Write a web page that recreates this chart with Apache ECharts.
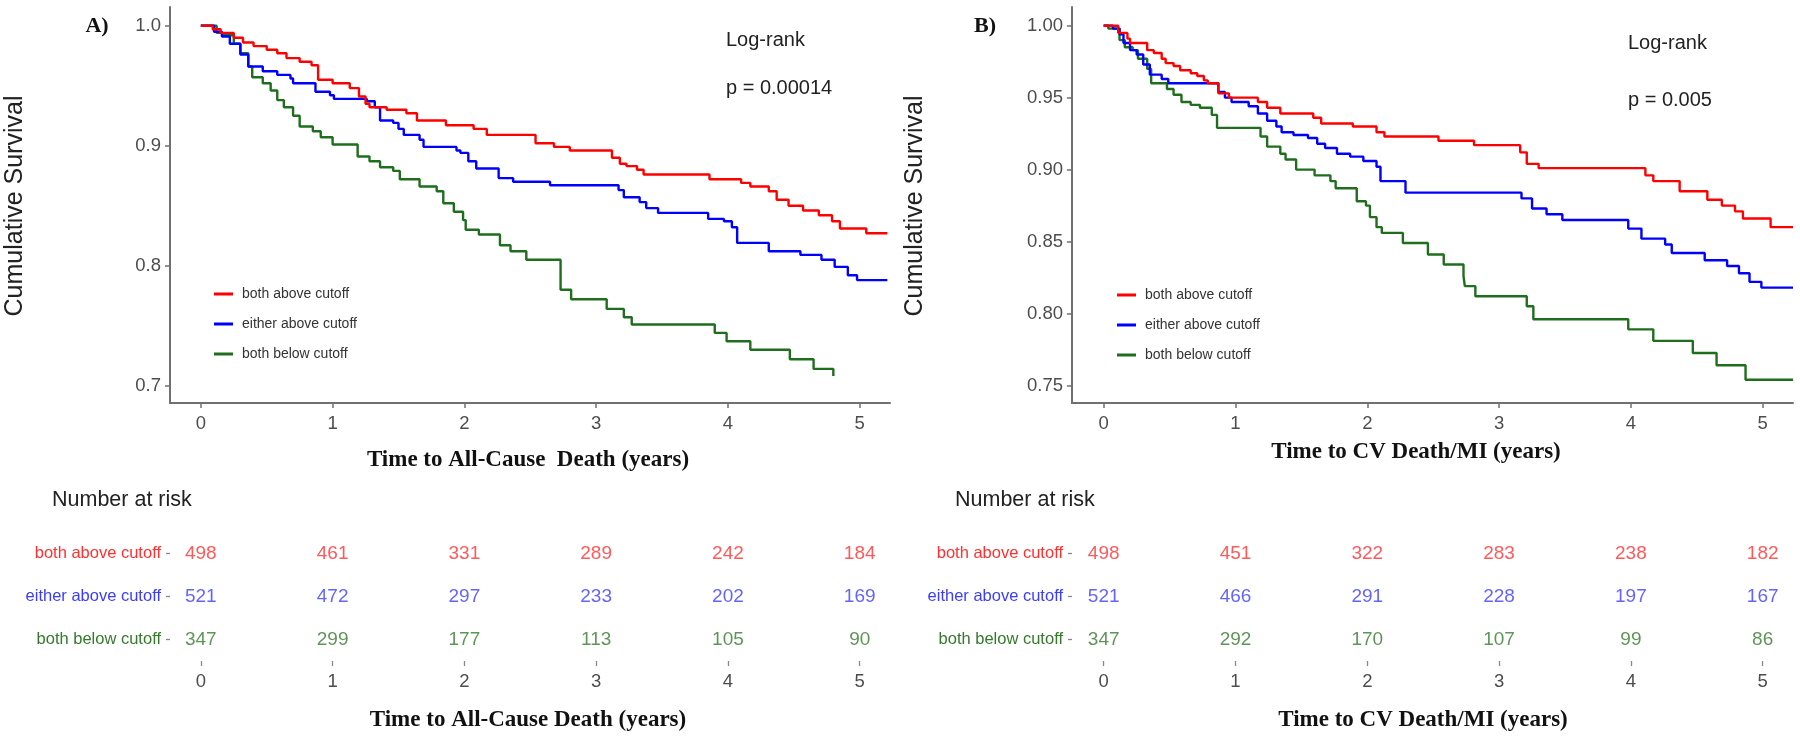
<!DOCTYPE html>
<html>
<head>
<meta charset="utf-8">
<script src="https://cdn.jsdelivr.net/npm/echarts@6/dist/echarts.min.js"></script>
<style>html,body{margin:0;padding:0;background:#fff}#c{width:1800px;height:738px}</style>
</head>
<body>
<div id="c"></div>
<script>
// ---------- data ----------
const groups = ['both above cutoff', 'either above cutoff', 'both below cutoff'];
const xTicks = [0, 1, 2, 3, 4, 5];
const yTicksA = [0.7, 0.8, 0.9, 1.0];
const yTicksB = [0.75, 0.80, 0.85, 0.90, 0.95, 1.00];
const riskTimes = [0, 1, 2, 3, 4, 5];

// Panel A: All-cause death (time in years, survival)
const aRed = [[0,1.0],[0.09,0.997],[0.15,0.994],[0.25,0.990],[0.32,0.986],[0.40,0.983],[0.50,0.980],[0.58,0.977],[0.65,0.973],[0.75,0.970],[0.84,0.967],[0.89,0.955],[1.00,0.952],[1.13,0.948],[1.20,0.941],[1.25,0.935],[1.28,0.932],[1.41,0.930],[1.56,0.927],[1.64,0.921],[1.86,0.917],[2.07,0.914],[2.17,0.909],[2.54,0.902],[2.68,0.899],[2.80,0.896],[3.12,0.890],[3.18,0.885],[3.23,0.883],[3.31,0.880],[3.36,0.876],[3.86,0.872],[4.10,0.869],[4.17,0.866],[4.31,0.862],[4.37,0.855],[4.46,0.850],[4.57,0.846],[4.69,0.842],[4.79,0.837],[4.85,0.831],[5.05,0.827],[5.21,0.827]];
const aBlue = [[0,1.0],[0.10,0.995],[0.16,0.991],[0.22,0.985],[0.30,0.976],[0.36,0.966],[0.47,0.962],[0.58,0.959],[0.68,0.956],[0.70,0.952],[0.87,0.945],[0.98,0.942],[1.01,0.939],[1.26,0.937],[1.32,0.932],[1.36,0.921],[1.46,0.919],[1.50,0.914],[1.54,0.909],[1.66,0.905],[1.69,0.899],[1.94,0.896],[1.97,0.894],[2.03,0.887],[2.09,0.881],[2.26,0.873],[2.37,0.870],[2.65,0.867],[3.17,0.863],[3.21,0.857],[3.33,0.853],[3.38,0.848],[3.47,0.844],[3.85,0.839],[3.97,0.837],[4.03,0.832],[4.07,0.819],[4.31,0.812],[4.55,0.809],[4.71,0.805],[4.81,0.799],[4.91,0.792],[4.98,0.788],[5.21,0.788]];
const aGreen = [[0,1.0],[0.12,0.994],[0.17,0.992],[0.25,0.985],[0.30,0.977],[0.36,0.966],[0.39,0.957],[0.47,0.952],[0.53,0.946],[0.58,0.938],[0.63,0.932],[0.70,0.925],[0.75,0.916],[0.85,0.912],[0.91,0.907],[1.00,0.901],[1.19,0.891],[1.28,0.887],[1.36,0.882],[1.46,0.879],[1.51,0.872],[1.66,0.866],[1.79,0.862],[1.84,0.852],[1.92,0.845],[1.99,0.838],[2.01,0.830],[2.11,0.826],[2.27,0.817],[2.35,0.812],[2.47,0.805],[2.73,0.780],[2.81,0.772],[3.08,0.764],[3.21,0.757],[3.27,0.751],[3.90,0.744],[3.99,0.737],[4.17,0.730],[4.47,0.722],[4.65,0.714],[4.80,0.708]];

// Panel B: CV death / MI
const bRed = [[0,1.0],[0.11,0.995],[0.18,0.991],[0.20,0.988],[0.33,0.983],[0.38,0.981],[0.44,0.977],[0.47,0.974],[0.53,0.972],[0.58,0.969],[0.66,0.967],[0.71,0.965],[0.76,0.962],[0.79,0.960],[0.87,0.953],[0.95,0.950],[1.17,0.947],[1.24,0.943],[1.34,0.939],[1.59,0.936],[1.65,0.932],[1.89,0.930],[2.07,0.926],[2.13,0.923],[2.54,0.920],[2.81,0.917],[3.16,0.912],[3.21,0.904],[3.30,0.901],[4.11,0.896],[4.17,0.892],[4.37,0.885],[4.58,0.879],[4.69,0.875],[4.79,0.871],[4.85,0.866],[5.06,0.860],[5.23,0.860]];
const bBlue = [[0,1.0],[0.07,0.998],[0.12,0.994],[0.15,0.988],[0.20,0.983],[0.25,0.980],[0.30,0.973],[0.35,0.966],[0.44,0.963],[0.49,0.960],[0.87,0.954],[0.92,0.950],[0.97,0.947],[1.10,0.944],[1.17,0.939],[1.24,0.934],[1.31,0.930],[1.35,0.926],[1.44,0.924],[1.55,0.922],[1.62,0.918],[1.68,0.915],[1.77,0.911],[1.87,0.909],[1.97,0.906],[2.07,0.902],[2.10,0.892],[2.29,0.884],[3.17,0.880],[3.25,0.873],[3.36,0.869],[3.48,0.865],[3.98,0.859],[4.08,0.852],[4.26,0.848],[4.31,0.842],[4.56,0.837],[4.73,0.833],[4.82,0.828],[4.90,0.822],[4.99,0.818],[5.23,0.818]];
const bGreen = [[0,1.0],[0.035,0.998],[0.12,0.990],[0.16,0.985],[0.22,0.983],[0.26,0.977],[0.33,0.970],[0.36,0.960],[0.48,0.956],[0.53,0.952],[0.59,0.947],[0.66,0.945],[0.73,0.943],[0.82,0.938],[0.86,0.929],[1.19,0.923],[1.24,0.916],[1.34,0.911],[1.38,0.907],[1.46,0.900],[1.60,0.896],[1.72,0.892],[1.76,0.887],[1.92,0.878],[1.99,0.875],[2.02,0.867],[2.07,0.860],[2.11,0.856],[2.27,0.849],[2.46,0.841],[2.58,0.834],[2.73,0.826],[2.74,0.819],[2.82,0.812],[3.21,0.805],[3.26,0.796],[3.98,0.789],[4.17,0.781],[4.47,0.7725],[4.65,0.764],[4.87,0.754],[5.23,0.754]];

// Number at risk
const riskA = [[498,461,331,289,242,184],[521,472,297,233,202,169],[347,299,177,113,105,90]];
const riskB = [[498,451,322,283,238,182],[521,466,291,228,197,167],[347,292,170,107,99,86]];

// ---------- styles ----------
const lineColors = ['#FF0000', '#0000FF', '#1E6E1E'];
const riskColors = ['#FF3030', '#3C3CFF', '#357A2C'];
const FN = "'Liberation Sans',Arial,sans-serif";
const FS = "'Liberation Sans',Arial,sans-serif";
const FSERIF = "'Liberation Serif','Times New Roman',serif";
const axisGray = '#707070';
const labelGray = '#4d4d4d';
const clear = 'rgba(0,0,0,0)';

const XA = {left: 170, width: 720, min: -0.234, max: 5.23};
const XB = {left: 1072, width: 721, min: -0.2405, max: 5.23};

function plotX(gi, X) {
  return {
    gridIndex: gi, type: 'value', min: X.min, max: X.max,
    axisLine: {show: true, onZero: false, lineStyle: {color: axisGray, width: 2}},
    axisTick: {show: true, length: 5, customValues: xTicks, lineStyle: {color: axisGray, width: 1.5}},
    axisLabel: {customValues: xTicks, color: labelGray, fontSize: 18.5, fontFamily: FN, margin: 11},
    splitLine: {show: false}
  };
}
function plotY(gi, min, max, ticks, dec) {
  return {
    gridIndex: gi, type: 'value', min: min, max: max,
    axisLine: {show: true, onZero: false, lineStyle: {color: axisGray, width: 2}},
    axisTick: {show: true, length: 5, customValues: ticks, lineStyle: {color: axisGray, width: 1.5}},
    axisLabel: {customValues: ticks, color: labelGray, fontSize: 18.5, fontFamily: FN, margin: 9,
      formatter: v => Number(v).toFixed(dec)},
    splitLine: {show: false}
  };
}
function riskX(gi, X) {
  return {
    gridIndex: gi, type: 'value', min: X.min, max: X.max,
    axisLine: {show: true, onZero: false, lineStyle: {color: clear, width: 1}},
    axisTick: {show: true, length: 5, customValues: xTicks, lineStyle: {color: '#888', width: 1.3}},
    axisLabel: {customValues: xTicks, color: labelGray, fontSize: 18.5, fontFamily: FN, margin: 11},
    splitLine: {show: false}
  };
}
function riskY(gi) {
  return {
    gridIndex: gi, type: 'category', data: groups, inverse: true,
    axisLine: {show: true, onZero: false, lineStyle: {color: clear, width: 1}},
    axisTick: {show: true, alignWithLabel: true, length: 4, lineStyle: {color: '#888', width: 1.3}},
    axisLabel: {fontSize: 16.5, fontFamily: FN, margin: 9, color: (v, i) => riskColors[groups.indexOf(v)]},
    splitLine: {show: false}
  };
}

const kmSeries = [];
[[aRed, aBlue, aGreen], [bRed, bBlue, bGreen]].forEach((set, gi) => {
  set.forEach((d, k) => {
    kmSeries.push({
      name: groups[k], type: 'line', step: 'end', xAxisIndex: gi, yAxisIndex: gi,
      data: d, showSymbol: false, symbol: 'none', clip: true,
      lineStyle: {color: lineColors[k], width: 2.4}, itemStyle: {color: lineColors[k]},
      emphasis: {disabled: true}, z: 3 - k
    });
  });
});
const riskSeries = [];
[riskA, riskB].forEach((tab, ti) => {
  tab.forEach((row, k) => {
    riskSeries.push({
      name: 'risk' + ti + '_' + k, type: 'scatter', xAxisIndex: 2 + ti, yAxisIndex: 2 + ti,
      data: row.map((n, j) => [riskTimes[j], groups[k], n]),
      symbol: 'circle', symbolSize: 0.1, itemStyle: {color: clear},
      label: {show: true, position: 'inside', formatter: p => String(p.value[2]),
        color: riskColors[k], fontSize: 19, fontFamily: FN},
      emphasis: {disabled: true}, silent: true
    });
  });
});

function txt(x, y, text, o) {
  o = o || {};
  return {
    type: 'text', x: x, y: y, rotation: o.rot || 0, silent: true,
    style: {
      text: text, x: 0, y: 0,
      fill: o.color || '#222', fontSize: o.size || 20, fontFamily: o.family || FN,
      fontWeight: o.weight || 'normal',
      textAlign: o.align || 'left', align: o.align || 'left',
      textVerticalAlign: 'middle', verticalAlign: 'middle'
    }
  };
}

const legendCommon = {
  data: groups, orient: 'vertical', icon: 'rect', itemWidth: 19, itemHeight: 3, itemGap: 14,
  selectedMode: false,
  textStyle: {fontSize: 14, lineHeight: 16, fontFamily: FN, color: '#333', padding: [0, 0, 0, 4]}
};

const option = {
  animation: false,
  backgroundColor: '#ffffff',
  grid: [
    {left: XA.left, width: XA.width, top: 7, height: 396, containLabel: false},
    {left: XB.left, width: XB.width, top: 7, height: 396, containLabel: false},
    {left: XA.left, width: XA.width, top: 532, height: 129, containLabel: false},
    {left: XB.left, width: XB.width, top: 532, height: 129, containLabel: false}
  ],
  xAxis: [plotX(0, XA), plotX(1, XB), riskX(2, XA), riskX(3, XB)],
  yAxis: [plotY(0, 0.6856, 1.0156, yTicksA, 1), plotY(1, 0.7378, 1.013, yTicksB, 2), riskY(2), riskY(3)],
  legend: [
    Object.assign({left: 209, top: 281}, legendCommon),
    Object.assign({left: 1112, top: 282}, legendCommon)
  ],
  series: kmSeries.concat(riskSeries),
  graphic: [
    txt(97, 26, 'A)', {family: FSERIF, weight: 'bold', size: 22, align: 'center', color: '#111'}),
    txt(985, 26, 'B)', {family: FSERIF, weight: 'bold', size: 22, align: 'center', color: '#111'}),
    txt(726, 40, 'Log-rank', {size: 20, color: '#222'}),
    txt(726, 88, 'p = 0.00014', {size: 20, color: '#222'}),
    txt(1628, 43, 'Log-rank', {size: 20, color: '#222'}),
    txt(1628, 100, 'p = 0.005', {size: 20, color: '#222'}),
    txt(15, 206, 'Cumulative Survival', {family: FS, size: 25, align: 'center', rot: Math.PI / 2, color: '#222'}),
    txt(915, 206, 'Cumulative Survival', {family: FS, size: 25, align: 'center', rot: Math.PI / 2, color: '#222'}),
    txt(528, 460, 'Time to All-Cause  Death (years)', {family: FSERIF, weight: 'bold', size: 23, align: 'center', color: '#111'}),
    txt(1416, 452, 'Time to CV Death/MI (years)', {family: FSERIF, weight: 'bold', size: 23, align: 'center', color: '#111'}),
    txt(52, 500, 'Number at risk', {size: 21.5, color: '#222'}),
    txt(955, 500, 'Number at risk', {size: 21.5, color: '#222'}),
    txt(528, 720, 'Time to All-Cause Death (years)', {family: FSERIF, weight: 'bold', size: 23, align: 'center', color: '#111'}),
    txt(1423, 720, 'Time to CV Death/MI (years)', {family: FSERIF, weight: 'bold', size: 23, align: 'center', color: '#111'})
  ]
};

const chart = echarts.init(document.getElementById('c'), null, {renderer: 'canvas', width: 1800, height: 738});
chart.setOption(option);
</script>
</body>
</html>
